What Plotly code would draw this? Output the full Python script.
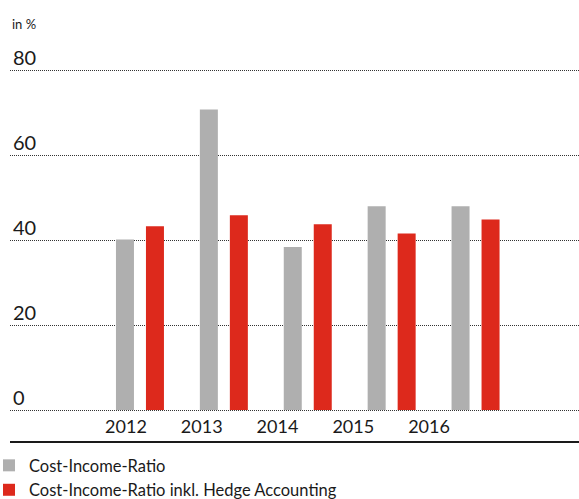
import plotly.graph_objects as go

years = ["2012", "2013", "2014", "2015", "2016"]
cir = [40.2, 70.8, 38.4, 48.0, 48.0]
cir_hedge = [43.3, 45.9, 43.8, 41.6, 44.9]
y_ticks = [0, 20, 40, 60, 80]

series_names = ["Cost-Income-Ratio", "Cost-Income-Ratio inkl. Hedge Accounting"]
colors = ["#afafaf", "#dd291c"]

font_family = "Lato, 'Noto Sans', sans-serif"
text_color = "#1a1a1a"

fig = go.Figure()
fig.add_trace(go.Bar(x=years, y=cir, name=series_names[0], marker_color=colors[0],
                     marker_line_width=0, hoverinfo="skip"))
fig.add_trace(go.Bar(x=years, y=cir_hedge, name=series_names[1], marker_color=colors[1],
                     marker_line_width=0, hoverinfo="skip"))
# invisible trace carrying the category labels axis
fig.add_trace(go.Scatter(x=years, y=[None] * len(years), xaxis="x2", showlegend=False,
                         mode="markers", hoverinfo="skip"))

fig.update_layout(
    width=579, height=499,
    margin=dict(l=10, r=0, t=44.5, b=58, autoexpand=False),
    paper_bgcolor="white", plot_bgcolor="white",
    barmode="group", bargap=0.285, bargroupgap=0.4,
    font=dict(family=font_family, color=text_color),
    showlegend=True,
    legend=dict(orientation="v", xref="container", yref="container",
                x=0, xanchor="left", y=0.102, yanchor="top",
                indentation=-11,
                font=dict(size=16.5, color=text_color), traceorder="normal",
                tracegroupgap=0, bgcolor="rgba(0,0,0,0)"),
    xaxis=dict(type="category", range=[-1.549, 5.233], showticklabels=False,
               showgrid=False, zeroline=False, showline=True, linecolor="#1a1a1a",
               linewidth=1.5, ticks=""),
    xaxis2=dict(type="category", overlaying="x", anchor="y", side="bottom",
                range=[-1.531, 5.98], showgrid=False, zeroline=False, showline=False,
                ticks="", ticklabelposition="inside", ticklabelstandoff=1,
                tickfont=dict(size=18, color=text_color)),
    yaxis=dict(range=[-7.29, 86], tickvals=y_ticks, showgrid=True, gridcolor="#333333",
               griddash="1px,1px", gridwidth=1, zeroline=False, showline=False, ticks="",
               ticklabelposition="inside", ticklabelshift=-12, ticklabelstandoff=0,
               tickfont=dict(size=20, color=text_color)),
    annotations=[dict(text="in %", xref="paper", yref="paper", x=0, y=1,
                      xanchor="left", yanchor="middle", yshift=21.5, showarrow=False,
                      font=dict(size=13, color=text_color))],
)

fig.write_html("out.html", config={"displayModeBar": False},
               post_script="document.body.style.margin='0';")
